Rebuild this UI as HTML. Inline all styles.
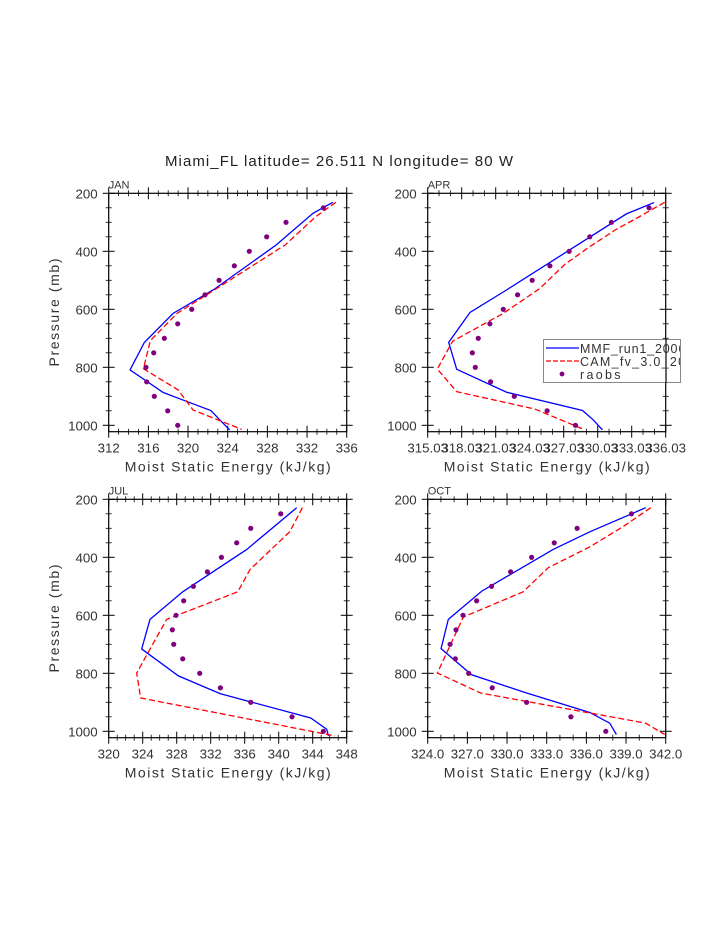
<!DOCTYPE html>
<html><head><meta charset="utf-8"><style>
html,body{margin:0;padding:0;background:#fff;}
svg{display:block;font-family:"Liberation Sans",sans-serif;}
</style></head><body>
<svg id="chart" width="723" height="935" viewBox="0 0 723 935" xmlns="http://www.w3.org/2000/svg">
<text x="165" y="166" font-size="15" fill="#222" textLength="348" lengthAdjust="spacing">Miami_FL  latitude= 26.511 N longitude= 80 W</text>
</svg>
<script>
const obsP = [250,300,350,400,450,500,550,600,650,700,750,800,850,900,950,1000];
const janObs = [333.65,329.88,327.93,326.18,324.67,323.13,321.71,320.37,318.96,317.61,316.54,315.76,315.83,316.60,317.95,318.96];
const janMmfP = [231,269,378,533,614,714,809,887,913,949,981,1016];
const janMmfE = [334.6,332.6,328.9,322.55,318.5,315.6,314.15,317.5,319.5,322.3,323.2,324.2];
const janCamP = [231,280,378,528,614,708,805,878,947,1014];
const janCamE = [334.9,332.9,329.8,322.9,318.9,316.2,315.5,319.0,320.5,325.4];
const aprObs = [334.56,331.24,329.33,327.51,325.81,324.25,322.96,321.70,320.52,319.49,318.97,319.23,320.58,322.67,325.57,328.07];
const aprMmfP = [232,271,533,611,714,807,886,949,981,1016];
const aprMmfE = [335.0,332.56,322.0,318.76,316.88,317.59,322.0,328.69,329.63,330.45];
const aprCamP = [231,280,324,384,445,528,614,710,806,884,944,1014];
const aprCamE = [335.94,333.74,331.68,329.33,327.13,324.93,321.70,317.23,315.88,317.59,324.49,328.80];
const julObs = [340.24,336.71,335.06,333.26,331.61,329.96,328.82,327.92,327.49,327.65,328.71,330.71,333.14,336.71,341.57,345.26];
const julMmfP = [229,373,519,614,716,809,870,901,954,993,1016];
const julMmfE = [342.12,336.24,328.71,324.86,323.88,328.20,333.10,337.02,343.77,345.65,345.85];
const julCamP = [229,312,442,519,614,799,885,1016];
const julCamE = [342.79,341.3,336.63,335.18,326.82,323.29,323.76,346.63];
const octObs = [339.41,335.30,333.57,331.86,330.27,328.83,327.70,326.67,326.14,325.69,326.09,327.10,328.88,331.48,334.83,337.47];
const octMmfP = [229,312,373,517,614,715,805,868,935,972,1011];
const octMmfE = [340.49,336.26,333.49,328.08,325.56,325.01,327.32,331.48,336.26,337.77,338.27];
const octCamP = [229,294,364,436,519,606,799,868,972,1011];
const octCamE = [340.87,338.78,336.26,333.11,331.22,326.69,324.73,328.0,340.49,341.92];
const janTicks = ["312","316","320","324","328","332","336"];
const aprTicks = ["315.03","318.03","321.03","324.03","327.03","330.03","333.03","336.03"];
const julTicks = ["320","324","328","332","336","340","344","348"];
const octTicks = ["324.0","327.0","330.0","333.0","336.0","339.0","342.0"];
const pTicks = [200,400,600,800,1000];

const NS="http://www.w3.org/2000/svg";
const svg=document.getElementById('chart');
function mk(tag,attrs,parent){const e=document.createElementNS(NS,tag);for(const k in attrs)e.setAttribute(k,attrs[k]);(parent||svg).appendChild(e);return e;}
function cw(s){let w=0;for(const c of s)w+=(c==='.')?3.5:7.4;return w;}

function panel(cfg){
  const g=mk('g',{});
  
  
  const L=cfg.left,R=cfg.left+238,T=cfg.top,B=cfg.top+238.4;
  const x0=parseFloat(cfg.ticks[0]),x1=parseFloat(cfg.ticks[cfg.ticks.length-1]);
  const sx=v=>L+(v-x0)/(x1-x0)*(R-L);
  const sy=p=>T+(p-200)/800*232;
  const clip=mk('clipPath',{id:'c'+cfg.name},g);
  mk('rect',{x:L,y:T,width:R-L,height:B-T},clip);
  const step=(x1-x0)/(cfg.ticks.length-1);
  const nMinor=cfg.minor;
  for(let i=0;i<cfg.ticks.length;i++){
    const x=sx(x0+i*step);
    mk('line',{x1:x,x2:x,y1:B-6,y2:B+6,stroke:'#000','stroke-width':1},g);
    mk('line',{x1:x,x2:x,y1:T-6,y2:T+6,stroke:'#000','stroke-width':1},g);
    const lbl=cfg.ticks[i];
    const tw=cw(lbl);
    const t=mk('text',{x:x-tw/2,y:B+21,'font-size':12.5,fill:'#333',textLength:tw,lengthAdjust:'spacingAndGlyphs'},g);
    t.textContent=lbl;
    
    
    if(i<cfg.ticks.length-1){for(let j=1;j<nMinor;j++){const xm=sx(x0+(i+j/nMinor)*step);
      mk('line',{x1:xm,x2:xm,y1:B-3,y2:B+3,stroke:'#000','stroke-width':0.8},g);
      mk('line',{x1:xm,x2:xm,y1:T-3,y2:T+3,stroke:'#000','stroke-width':0.8},g);}}
  }
  for(let p=200;p<=1000;p+=50){
    const y=sy(p);const major=p%200===0;const l=major?6:3;
    mk('line',{x1:L-l,x2:L+l,y1:y,y2:y,stroke:'#000','stroke-width':major?1:0.8},g);
    mk('line',{x1:R-l,x2:R+l,y1:y,y2:y,stroke:'#000','stroke-width':major?1:0.8},g);
  }
  pTicks.forEach(p=>{const s=String(p);const tw=cw(s);
    const t=mk('text',{x:L-11-tw,y:sy(p)+5,'font-size':12.5,fill:'#333',textLength:tw,lengthAdjust:'spacingAndGlyphs'},g);t.textContent=s;
    
    });
  mk('rect',{x:L,y:T,width:R-L,height:B-T,fill:'none',stroke:'#000','stroke-width':1.2},g);
  const lab=mk('text',{x:L,y:T-5,'font-size':11,fill:'#333'},g);lab.textContent=cfg.name.toUpperCase();
  
  
  const xt=mk('text',{x:(L+R)/2-103,y:B+40,'font-size':14,fill:'#333',textLength:206,lengthAdjust:'spacing'},g);xt.textContent='Moist Static Energy (kJ/kg)';
  
  
  if(cfg.ylabel){const yt=mk('text',{x:-54,y:0,'font-size':14,fill:'#333',textLength:108,lengthAdjust:'spacing',transform:`translate(59,${(T+B)/2}) rotate(-90)`},g);yt.textContent='Pressure (mb)';
    
    }
  const pg=mk('g',{'clip-path':`url(#c${cfg.name})`},g);
  const mmf=mk('polyline',{points:cfg.mmfE.map((e,i)=>sx(e)+','+sy(cfg.mmfP[i])).join(' '),fill:'none',stroke:'#0000ff','stroke-width':1.3},pg);
  
  
  const cam=mk('polyline',{points:cfg.camE.map((e,i)=>sx(e)+','+sy(cfg.camP[i])).join(' '),fill:'none',stroke:'#ff0000','stroke-width':1.3,'stroke-dasharray':'6,3'},pg);
  
  
  cfg.obs.forEach((e,i)=>{const c=mk('circle',{cx:sx(e),cy:sy(obsP[i]),r:2.6,fill:'#800080'},pg);
    
    });
}
panel({name:'jan',left:108.7,top:193.3,ticks:janTicks,minor:4,obs:janObs,mmfP:janMmfP,mmfE:janMmfE,camP:janCamP,camE:janCamE,ylabel:true});
panel({name:'apr',left:427.7,top:193.3,ticks:aprTicks,minor:3,obs:aprObs,mmfP:aprMmfP,mmfE:aprMmfE,camP:aprCamP,camE:aprCamE,ylabel:false});
panel({name:'jul',left:108.7,top:499.3,ticks:julTicks,minor:4,obs:julObs,mmfP:julMmfP,mmfE:julMmfE,camP:julCamP,camE:julCamE,ylabel:true});
panel({name:'oct',left:427.7,top:499.3,ticks:octTicks,minor:3,obs:octObs,mmfP:octMmfP,mmfE:octMmfE,camP:octCamP,camE:octCamE,ylabel:false});

const lg=mk('g',{});


mk('rect',{x:543.5,y:339.5,width:137,height:43,fill:'#fff',stroke:'#888','stroke-width':1},lg);
mk('line',{x1:666,x2:666,y1:339,y2:383,stroke:'#000','stroke-width':1.2},lg);
mk('line',{x1:546,x2:579,y1:348,y2:348,stroke:'#0000ff','stroke-width':1.3},lg);
mk('line',{x1:546,x2:579,y1:361,y2:361,stroke:'#ff0000','stroke-width':1.3,'stroke-dasharray':'5,2'},lg);
mk('circle',{cx:562,cy:374,r:2.4,fill:'#800080'},lg);
const lc=mk('clipPath',{id:'lgc'},lg);mk('rect',{x:540,y:335,width:140,height:50},lc);
const lt=mk('g',{'clip-path':'url(#lgc)'},lg);
[['MMF_run1_2006',353],['CAM_fv_3.0_2006',366],['raobs',379]].forEach(([s,y])=>{
  const t=mk('text',{x:580,y:y,'font-size':12.5,fill:'#333',textLength:s.length*8.1,lengthAdjust:'spacing'},lt);t.textContent=s;
  
  
});
</script>
</body></html>
